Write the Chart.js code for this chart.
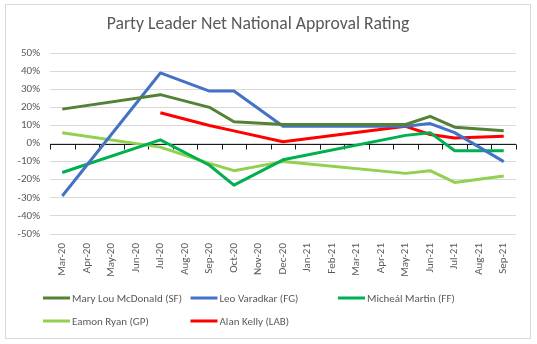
<!DOCTYPE html>
<html>
<head>
<meta charset="utf-8">
<script src="https://cdn.jsdelivr.net/npm/chart.js@4.4.1/dist/chart.umd.min.js"></script>
<style>
  body { margin: 0; background: #fff; }
</style>
</head>
<body>
<canvas id="approval" width="537" height="344"></canvas>
<script>
// monthly poll dates, Mar 2020 - Sep 2021
var months = ['Mar-20', 'Apr-20', 'May-20', 'Jun-20', 'Jul-20', 'Aug-20', 'Sep-20', 'Oct-20', 'Nov-20',
  'Dec-20', 'Jan-21', 'Feb-21', 'Mar-21', 'Apr-21', 'May-21', 'Jun-21', 'Jul-21', 'Aug-21', 'Sep-21'];

// net approval (%), null = no poll that month
var mcdonald = [19, null, null, null, 27, null, 20, 12, null, 10.5, null, null, null, null, 10.5, 15, 9, null, 7];
var varadkar = [-29, null, null, null, 39, null, 29, 29, null, 9.5, null, null, null, null, 9.5, 11, 6, null, -10];
var martin   = [-16, null, null, null, 2, null, -12, -23, null, -9, null, null, null, null, 4.5, 6, -4, null, -4];
var ryan     = [6, null, null, null, -2, null, -11, -15, null, -10, null, null, null, null, -16.5, -15, -21.5, null, -18];
var kelly    = [null, null, null, null, 17, null, 10, 7, null, 1, null, null, null, null, 9.5, 5, 3, null, 4];

var leaders = ['Mary Lou McDonald (SF)', 'Leo Varadkar (FG)', 'Micheál Martin (FF)', 'Eamon Ryan (GP)', 'Alan Kelly (LAB)'];
var colours = ['#548235', '#4472C4', '#00B050', '#92D050', '#FF0000'];
var yTicks = { min: -50, max: 50, step: 10 };

var FONT = 'Carlito, Lato, "Liberation Sans", sans-serif';
var GREY = '#595959';

function series(i, values) {
  return {
    label: leaders[i],
    data: values,
    borderColor: colours[i],
    backgroundColor: colours[i],
    borderWidth: 3,
    pointRadius: 0,
    borderJoinStyle: 'round',
    spanGaps: true,
    tension: 0
  };
}

// zero axis line with tick marks between categories (drawn under the lines)
var zeroAxis = {
  id: 'zeroAxis',
  beforeDatasetsDraw: function(chart) {
    var ctx = chart.ctx, x = chart.scales.x, y = chart.scales.y;
    var y0 = Math.round(y.getPixelForValue(0)) + 0.5;
    ctx.save();
    ctx.strokeStyle = '#1a1a1a';
    ctx.lineWidth = 1;
    ctx.beginPath();
    ctx.moveTo(chart.chartArea.left, y0);
    ctx.lineTo(chart.chartArea.right, y0);
    for (var i = 0; i <= months.length; i++) {
      var px = Math.round(x.getPixelForValue(i - 0.5)) + 0.5;
      ctx.moveTo(px, y0);
      ctx.lineTo(px, y0 + 5);
    }
    ctx.stroke();
    ctx.restore();
  }
};

// legend laid out as a 3-column grid, plus the outer frame
var gridLegend = {
  id: 'gridLegend',
  afterDraw: function(chart) {
    var ctx = chart.ctx;
    ctx.save();
    ctx.font = '11px ' + FONT;
    ctx.textBaseline = 'middle';
    ctx.textAlign = 'left';
    chart.data.datasets.forEach(function(ds, i) {
      var lx = 43 + (i % 3) * 147.5;
      var ly = 298 + Math.floor(i / 3) * 23;
      ctx.strokeStyle = ds.borderColor;
      ctx.lineWidth = 3;
      ctx.beginPath();
      ctx.moveTo(lx, ly);
      ctx.lineTo(lx + 27, ly);
      ctx.stroke();
      ctx.fillStyle = GREY;
      ctx.fillText(ds.label, lx + 29, ly + 1);
    });
    ctx.strokeStyle = '#d9d9d9';
    ctx.lineWidth = 1;
    ctx.strokeRect(5.5, 4.5, 525, 334);
    ctx.restore();
  }
};

new Chart(document.getElementById('approval'), {
  type: 'line',
  data: {
    labels: months,
    datasets: [
      series(0, mcdonald),
      series(1, varadkar),
      series(2, martin),
      series(3, ryan),
      series(4, kelly)
    ]
  },
  options: {
    responsive: false,
    animation: false,
    devicePixelRatio: 1,
    layout: { padding: { left: 0, right: 21, top: 0, bottom: 0 } },
    plugins: {
      legend: { display: false },
      tooltip: { enabled: false },
      title: {
        display: true,
        text: 'Party Leader Net National Approval Rating',
        color: GREY,
        font: { family: FONT, size: 17.7, weight: 'normal' },
        padding: { top: 13.5, bottom: 18.3 }
      }
    },
    scales: {
      x: {
        offset: true,
        grid: { display: false, drawTicks: false },
        border: { display: false },
        ticks: {
          color: GREY,
          font: { family: FONT, size: 11 },
          minRotation: 90,
          maxRotation: 90,
          autoSkip: false,
          padding: 9
        },
        afterFit: function(s) { s.height = 110; }
      },
      y: {
        min: yTicks.min,
        max: yTicks.max,
        grid: { color: '#d9d9d9', drawTicks: false },
        border: { display: false },
        ticks: {
          stepSize: yTicks.step,
          color: GREY,
          font: { family: FONT, size: 11 },
          padding: 10,
          callback: function(v) { return v + '%'; }
        },
        afterFit: function(s) { s.width = 50; }
      }
    }
  },
  plugins: [zeroAxis, gridLegend]
});
</script>
</body>
</html>
